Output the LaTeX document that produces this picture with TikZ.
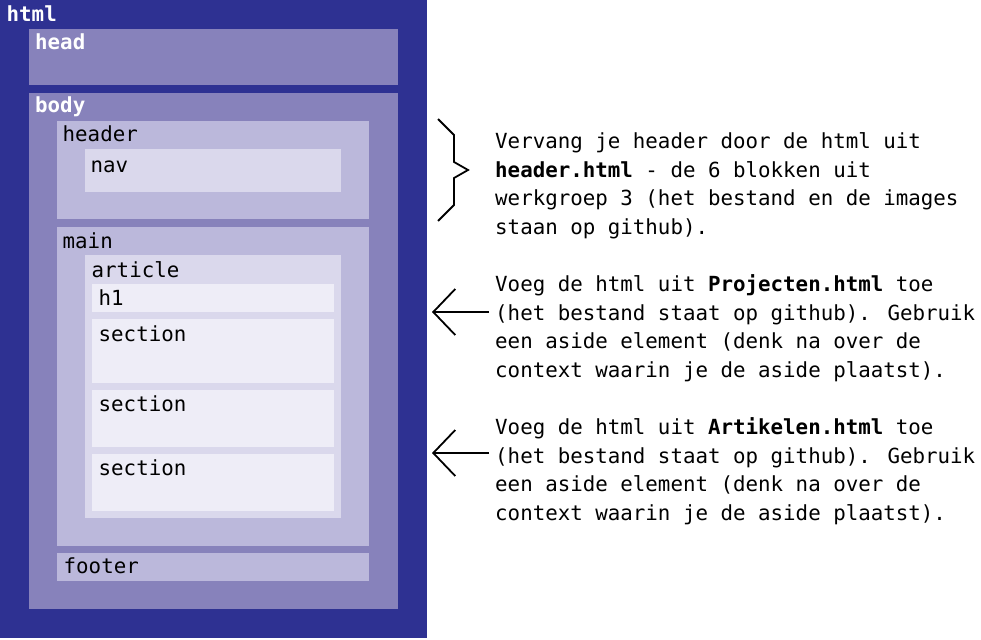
\documentclass[tikz,border=0pt]{standalone}
\usepackage{fontspec}
\newfontfamily\codefont{DejaVu Sans Mono}
\usetikzlibrary{arrows.meta}
\definecolor{lvlA}{HTML}{2E3192}
\definecolor{lvlB}{HTML}{8782BB}
\definecolor{lvlC}{HTML}{BBB8DB}
\definecolor{lvlD}{HTML}{DAD8EC}
\definecolor{lvlE}{HTML}{EEEDF7}
\begin{document}
\begin{tikzpicture}[x=1pt,y=-1pt,
  box/.style={anchor=north west,inner sep=0pt,outer sep=0pt,draw=none},
  tag/.style={anchor=base west,inner sep=0pt,font=\codefont\fontsize{20.8}{28.6}\selectfont},
  tagw/.style={tag,text=white,font=\codefont\bfseries\fontsize{20.8}{28.6}\selectfont},
  note/.style={anchor=north west,inner sep=0pt,align=left,font=\codefont\fontsize{20.8}{28.6}\selectfont},
  pointer/.style={line width=1.8pt,-{Straight Barb[length=22pt,width=46pt,line width=1.8pt]}},
  bracket/.style={line width=1.8pt,line join=miter}]
\useasboundingbox (0,0) rectangle (981,639);
\fill[white] (0,0) rectangle (981,639);

% nested page structure
\node[box,fill=lvlA,minimum width=427pt,minimum height=638pt] (html) at (0,0) {};
\node[box,fill=lvlB,minimum width=369pt,minimum height=56pt] (head) at (29,29) {};
\node[box,fill=lvlB,minimum width=369pt,minimum height=516pt] (body) at (29,93) {};
\node[box,fill=lvlC,minimum width=312pt,minimum height=98pt] (header) at (57,121) {};
\node[box,fill=lvlD,minimum width=256pt,minimum height=43pt] (nav) at (85,149) {};
\node[box,fill=lvlC,minimum width=312pt,minimum height=319pt] (main) at (57,227) {};
\node[box,fill=lvlD,minimum width=256pt,minimum height=263pt] (article) at (85,255) {};
\node[box,fill=lvlE,minimum width=242pt,minimum height=28pt] (h1) at (92,284) {};
\node[box,fill=lvlE,minimum width=242pt,minimum height=64pt] (secA) at (92,319) {};
\node[box,fill=lvlE,minimum width=242pt,minimum height=57pt] (secB) at (92,390) {};
\node[box,fill=lvlE,minimum width=242pt,minimum height=57pt] (secC) at (92,454) {};
\node[box,fill=lvlC,minimum width=312pt,minimum height=28pt] (footer) at (57,553) {};

% element names
\node[tagw] (lhtml) at (6.5,22) {html};
\node[tagw] (lhead) at (35,50) {head};
\node[tagw] (lbody) at (35,113) {body};
\node[tag] (lheader) at (62.5,142) {header};
\node[tag] (lnav) at (90.5,172) {nav};
\node[tag] (lmain) at (62.5,248) {main};
\node[tag] (larticle) at (91.5,277) {article};
\node[tag] (lh1) at (98.5,305) {h1};
\node[tag] (lsecA) at (98.5,341) {section};
\node[tag] (lsecB) at (98.5,411) {section};
\node[tag] (lsecC) at (98.5,475) {section};
\node[tag] (lfooter) at (63.5,573) {footer};

% instructions
\node[note] (n1) at (495,128.5) {\strut Vervang je header door de html uit\\
{\bfseries header.html} - de 6 blokken uit\\
werkgroep 3 (het bestand en de images\\
staan op github).};
\node[note] (n2) at (495,271.5) {\strut Voeg de html uit {\bfseries Projecten.html} toe\\
(het bestand staat op github). Gebruik\\
een aside element (denk na over de\\
context waarin je de aside plaatst).};
\node[note] (n3) at (495,414.5) {\strut Voeg de html uit {\bfseries Artikelen.html} toe\\
(het bestand staat op github). Gebruik\\
een aside element (denk na over de\\
context waarin je de aside plaatst).};

% brace beside the header note
\draw[bracket] (438,119) -- (454,135) -- (454,162) -- (468,170) -- (454,178) -- (454,205) -- (438,221);

% arrows pointing back to the page
\coordinate (p2s) at (489,312);
\coordinate (p2e) at (432,312);
\coordinate (p3s) at (489,453);
\coordinate (p3e) at (432,453);
\draw[pointer] (p2s) -- (p2e);
\draw[pointer] (p3s) -- (p3e);
\end{tikzpicture}
\end{document}
